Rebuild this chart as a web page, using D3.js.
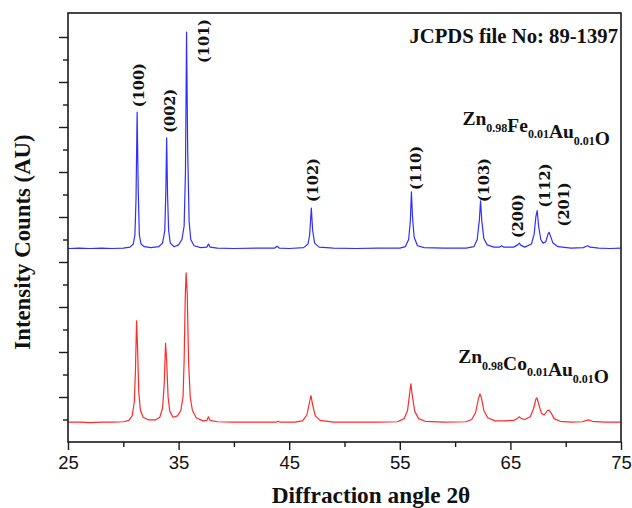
<!DOCTYPE html>
<html>
<head>
<meta charset="utf-8">
<script src="https://cdn.jsdelivr.net/npm/d3@7/dist/d3.min.js"></script>
<style>
  html, body { margin: 0; padding: 0; background: #ffffff; }
  svg { display: block; }
</style>
</head>
<body>
<div id="chart"></div>
<script>
// ---------------- DATA ----------------
// Diffraction angle tick labels
const xMajorTicks = [25, 35, 45, 55, 65, 75];
const xMinorTicks = [30, 40, 50, 60, 70];
const yMajorTicks = [1, 2, 3, 4, 5, 6, 7, 8, 9];
const yMinorTicks = [0.5, 1.5, 2.5, 3.5, 4.5, 5.5, 6.5, 7.5, 8.5];

// Zn0.98Fe0.01Au0.01O pattern: [2theta, intensity (AU)]
const feAngles = [25.0,26.0,27.0,28.0,29.0,30.0,30.6,30.9,31.05,31.15,31.25,31.35,31.45,31.6,31.9,32.5,33.2,33.55,33.75,33.85,33.92,34.0,34.1,34.25,34.6,35.0,35.3,35.5,35.62,35.72,35.82,35.95,36.1,36.4,37.0,37.55,37.7,37.85,38.5,40.0,42.0,43.7,43.9,44.1,45.0,46.3,46.7,46.85,47.0,47.12,47.3,47.7,49.0,51.0,53.0,55.0,55.5,55.8,55.95,56.05,56.15,56.3,56.6,57.2,59.0,61.0,61.7,62.0,62.2,62.3,62.42,62.6,62.9,63.5,64.0,64.2,64.4,65.3,65.65,65.8,65.95,66.3,66.9,67.15,67.3,67.42,67.55,67.75,67.95,68.2,68.4,68.5,68.62,68.85,69.3,70.5,71.6,71.85,72.0,72.2,73.0,74.0,75.0];
const feIntensity = [4.30,4.31,4.30,4.31,4.30,4.31,4.33,4.40,4.60,5.40,7.33,5.60,4.60,4.40,4.34,4.32,4.34,4.42,4.70,5.60,6.76,5.50,4.70,4.42,4.34,4.38,4.50,4.80,6.00,9.11,6.50,4.90,4.50,4.36,4.32,4.33,4.40,4.33,4.31,4.30,4.31,4.31,4.35,4.31,4.30,4.32,4.40,4.60,5.20,4.70,4.42,4.33,4.31,4.30,4.31,4.31,4.34,4.50,4.90,5.56,5.00,4.55,4.36,4.32,4.31,4.31,4.34,4.50,4.95,5.36,4.90,4.52,4.38,4.33,4.33,4.36,4.33,4.33,4.38,4.42,4.37,4.33,4.40,4.62,5.00,5.14,4.80,4.50,4.42,4.45,4.62,4.66,4.58,4.42,4.34,4.31,4.32,4.35,4.36,4.33,4.31,4.30,4.31];

// Zn0.98Co0.01Au0.01O pattern: [2theta, intensity (AU)]
const coAngles = [25.0,26.0,27.0,28.0,29.0,30.0,30.5,30.8,31.0,31.1,31.2,31.3,31.4,31.55,31.8,32.3,32.9,33.3,33.55,33.7,33.82,33.92,34.05,34.2,34.5,34.9,35.2,35.4,35.5,35.6,35.68,35.78,35.9,36.05,36.25,36.6,37.2,37.55,37.7,37.85,38.5,40.0,42.0,43.8,44.0,44.2,45.5,46.2,46.6,46.85,46.97,47.1,47.35,47.8,49.0,51.0,53.0,54.8,55.4,55.7,55.9,56.0,56.12,56.35,56.7,57.3,59.0,61.0,61.5,61.85,62.1,62.25,62.38,62.6,62.95,63.6,64.2,65.3,65.65,65.8,66.0,66.3,66.8,67.1,67.3,67.4,67.55,67.8,68.05,68.35,68.5,68.65,68.95,69.5,70.5,71.5,71.9,72.1,72.4,73.5,75.0];
const coIntensity = [0.44,0.44,0.43,0.44,0.44,0.45,0.48,0.58,0.90,1.60,2.69,2.00,1.10,0.70,0.55,0.49,0.49,0.55,0.75,1.30,2.20,1.80,1.00,0.68,0.55,0.58,0.70,1.00,1.80,3.20,3.76,3.30,1.80,1.00,0.70,0.54,0.47,0.48,0.56,0.48,0.45,0.44,0.44,0.44,0.46,0.44,0.44,0.47,0.60,0.90,1.03,0.85,0.58,0.48,0.44,0.44,0.44,0.45,0.52,0.70,1.10,1.29,1.05,0.68,0.52,0.46,0.44,0.45,0.50,0.65,0.95,1.07,0.98,0.70,0.54,0.47,0.47,0.48,0.53,0.56,0.52,0.50,0.56,0.75,0.95,0.98,0.85,0.64,0.60,0.70,0.71,0.66,0.52,0.46,0.44,0.45,0.48,0.49,0.46,0.44,0.44];

// Miller index annotations (2theta, intensity at label centre)
const peakLabels = ["(100)", "(002)", "(101)", "(102)", "(110)", "(103)", "(200)", "(112)", "(201)"];
const peakLabelAngles = [31.33, 34.18, 37.25, 47.15, 56.42, 62.61, 65.6, 68.1, 69.82];
const peakLabelLevels = [7.93, 7.36, 8.91, 5.82, 6.09, 5.82, 5.02, 5.70, 5.28];

const xTitle = "Diffraction angle 2\u03B8";
const yTitle = "Intensity Counts (AU)";
const jcpdsText = "JCPDS file No: 89-1397";
const feFormula = [["Zn", "0.98"], ["Fe", "0.01"], ["Au", "0.01"], ["O", ""]];
const coFormula = [["Zn", "0.98"], ["Co", "0.01"], ["Au", "0.01"], ["O", ""]];

// ---------------- LAYOUT ----------------
const W = 632, H = 508;
const margin = { left: 68, right: 11, top: 13, bottom: 66 };
const plotW = W - margin.left - margin.right;
const plotH = H - margin.top - margin.bottom;

const svg = d3.select("#chart").append("svg")
  .attr("width", W).attr("height", H);

svg.append("rect").attr("width", W).attr("height", H).attr("fill", "#ffffff");

const x = d3.scaleLinear().domain([25, 75]).range([margin.left, margin.left + plotW]);
const y = d3.scaleLinear().domain([0, 9.533]).range([margin.top + plotH, margin.top]);

const axisColor = "#1a1a1a";
const serif = "'Liberation Serif', 'Times New Roman', serif";
const labelSerif = "'DejaVu Serif', serif";
const sans = "'Liberation Sans', Arial, sans-serif";

// curves
const line = d3.line().x(d => x(d[0])).y(d => y(d[1]));
const feData = feAngles.map((a, i) => [a, feIntensity[i]]);
const coData = coAngles.map((a, i) => [a, coIntensity[i]]);

svg.append("path").datum(coData).attr("d", line)
  .attr("fill", "none").attr("stroke", "#ff2a2a").attr("stroke-width", 1.2)
  .attr("stroke-linejoin", "round");
svg.append("path").datum(feData).attr("d", line)
  .attr("fill", "none").attr("stroke", "#2f2fff").attr("stroke-width", 1.2)
  .attr("stroke-linejoin", "round");

// frame
svg.append("rect")
  .attr("x", margin.left).attr("y", margin.top)
  .attr("width", plotW).attr("height", plotH)
  .attr("fill", "none").attr("stroke", axisColor).attr("stroke-width", 1.6);

// x axis
const xAxis = d3.axisBottom(x).tickValues(xMajorTicks).tickSize(8).tickPadding(6)
  .tickFormat(d3.format("d"));
const gx = svg.append("g").attr("transform", `translate(0,${margin.top + plotH})`).call(xAxis);
gx.select(".domain").remove();
gx.selectAll("line").attr("stroke", axisColor).attr("stroke-width", 1.4);
gx.selectAll("text").attr("font-family", sans).attr("font-size", 18.5).attr("fill", "#111");

const gxm = svg.append("g").attr("transform", `translate(0,${margin.top + plotH})`)
  .call(d3.axisBottom(x).tickValues(xMinorTicks).tickSize(5).tickFormat(""));
gxm.select(".domain").remove();
gxm.selectAll("line").attr("stroke", axisColor).attr("stroke-width", 1.4);

// y axis ticks (no labels)
const gy = svg.append("g").attr("transform", `translate(${margin.left},0)`)
  .call(d3.axisLeft(y).tickValues(yMajorTicks).tickSize(9).tickFormat(""));
gy.select(".domain").remove();
gy.selectAll("line").attr("stroke", axisColor).attr("stroke-width", 1.4);
const gym = svg.append("g").attr("transform", `translate(${margin.left},0)`)
  .call(d3.axisLeft(y).tickValues(yMinorTicks).tickSize(5).tickFormat(""));
gym.select(".domain").remove();
gym.selectAll("line").attr("stroke", axisColor).attr("stroke-width", 1.4);

// axis titles
svg.append("text")
  .attr("x", 371).attr("y", 503)
  .attr("text-anchor", "middle")
  .attr("font-family", serif).attr("font-weight", "bold").attr("font-size", 23.3)
  .attr("fill", "#111").text(xTitle);

svg.append("text")
  .attr("transform", "translate(29.5,242) rotate(-90)")
  .attr("text-anchor", "middle")
  .attr("font-family", serif).attr("font-weight", "bold").attr("font-size", 22.8)
  .attr("fill", "#111").text(yTitle);

// peak labels
peakLabels.forEach((lab, i) => {
  svg.append("text")
    .attr("transform", `translate(${x(peakLabelAngles[i])},${y(peakLabelLevels[i])}) rotate(-90)`)
    .attr("text-anchor", "middle")
    .attr("dominant-baseline", "central")
    .attr("font-family", labelSerif).attr("font-weight", "bold").attr("font-size", 14.5)
    .attr("fill", "#111").text(lab);
});

// JCPDS note
svg.append("text")
  .attr("x", 618).attr("y", 43.3)
  .attr("text-anchor", "end")
  .attr("font-family", serif).attr("font-weight", "bold").attr("font-size", 20.7)
  .attr("fill", "#111").text(jcpdsText);

// formula labels
function formula(parts, xr, yb) {
  const t = svg.append("text")
    .attr("x", xr).attr("y", yb)
    .attr("text-anchor", "end")
    .attr("font-family", serif).attr("font-weight", "bold").attr("font-size", 19.5)
    .attr("fill", "#111");
  parts.forEach(p => {
    t.append("tspan").text(p[0]);
    if (p[1]) {
      t.append("tspan").attr("dy", 6.5).attr("font-size", 12).text(p[1]);
      t.append("tspan").attr("dy", -6.5).text("");
    }
  });
}
formula(feFormula, 610, 125);
formula(coFormula, 609, 363.3);
</script>
</body>
</html>
